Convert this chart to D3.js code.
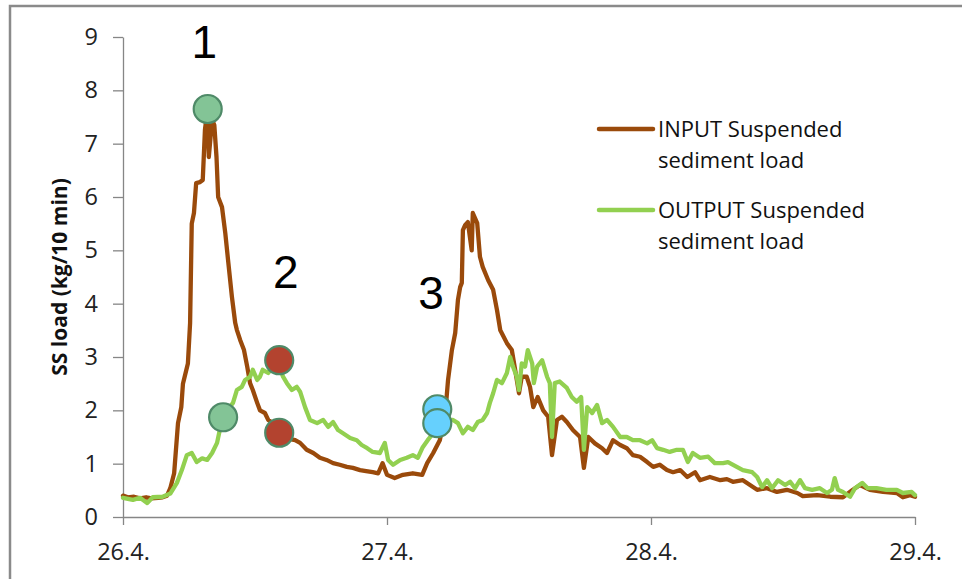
<!DOCTYPE html>
<html lang="en">
<head>
    <meta charset="utf-8">
    <title>SS load</title>
    <style type="text/css">
    body {
        margin: 0;
        background-color: #fff;
    }
    svg {
        display: block;
    }
    .axis path, .axis line {
        stroke: #868686;
        stroke-width: 1.3px;
    }
    .axis text {
        fill: #222;
        font-family: "Open Sans", sans-serif;
        font-size: 23.5px;
    }
    .axisTitle {
        fill: #111;
        font-family: "Open Sans", sans-serif;
        font-weight: bold;
        font-size: 21px;
    }
    .legendText {
        fill: #111;
        font-family: "Open Sans", sans-serif;
        font-size: 22px;
    }
    .bigNum {
        fill: #000;
        font-family: "Liberation Sans", Arial, sans-serif;
        font-size: 46px;
    }
    </style>
    <script src="https://d3js.org/d3.v7.min.js"></script>
</head>
<body>
<div id="chart"></div>
<script>

// hours since 26.4. 00:00, 10-min logger series
var inputHours = [0, 0.45, 1, 1.55, 2.1, 2.6, 3.2, 3.6, 4, 4.3, 4.65, 5, 5.3, 5.45, 5.9, 6.1, 6.25, 6.45, 6.65, 7, 7.25, 7.45, 7.65, 7.8, 8.1, 8.3, 8.5, 8.65, 9, 9.3, 9.55, 9.9, 10.2, 10.35, 10.65, 11, 11.3, 11.55, 11.8, 12.2, 12.45, 12.9, 13.2, 13.65, 14.2, 14.7, 15.2, 15.65, 16.1, 16.7, 17.3, 17.9, 18.5, 19.1, 19.7, 20.35, 20.9, 21.55, 22.1, 22.7, 23.2, 23.6, 24, 24.7, 25.45, 26.35, 27.2, 27.65, 28.2, 28.8, 29.3, 29.55, 29.9, 30.2, 30.45, 30.65, 30.8, 30.9, 31.1, 31.35, 31.7, 31.8, 32.2, 32.45, 32.7, 33.2, 33.65, 34, 34.3, 34.9, 35.35, 35.65, 36, 36.25, 36.7, 37, 37.3, 37.7, 38.2, 38.65, 39, 39.45, 39.9, 40.35, 40.9, 41.55, 41.9, 42.3, 42.9, 43.55, 44, 44.55, 45.2, 45.8, 46.35, 47, 47.65, 48.2, 48.8, 49.45, 50, 50.65, 51.3, 52, 52.45, 53.35, 54.3, 54.9, 55.45, 56.35, 57, 57.65, 58.55, 59.45, 60.35, 61.3, 61.8, 63.1, 64.3, 65.45, 66.35, 67, 67.9, 69.1, 70.35, 70.9, 71.55, 72];
var inputLoad = [0.40, 0.37, 0.38, 0.35, 0.37, 0.35, 0.36, 0.37, 0.40, 0.54, 0.82, 1.76, 2.06, 2.5, 2.88, 3.64, 5.5, 5.7, 6.26, 6.28, 6.32, 7.26, 7.6, 6.75, 7.45, 7.35, 6.75, 6.0, 5.81, 5.32, 4.82, 4.13, 3.64, 3.51, 3.32, 3.13, 2.81, 2.51, 2.38, 2.14, 2.0, 1.95, 1.82, 1.76, 1.62, 1.52, 1.46, 1.44, 1.39, 1.26, 1.2, 1.11, 1.07, 1.01, 0.98, 0.94, 0.92, 0.88, 0.86, 0.84, 0.82, 1.01, 0.79, 0.73, 0.79, 0.82, 0.79, 1.01, 1.2, 1.44, 1.95, 2.57, 3.13, 3.45, 4.07, 4.31, 4.39, 5.38, 5.47, 5.53, 5.0, 5.7, 5.51, 4.88, 4.69, 4.44, 4.26, 3.88, 3.5, 3.26, 3.13, 2.76, 2.32, 2.63, 2.63, 2.44, 2.06, 2.25, 2.0, 1.88, 1.16, 1.82, 1.88, 1.78, 1.63, 1.5, 0.92, 1.5, 1.38, 1.29, 1.2, 1.44, 1.35, 1.29, 1.16, 1.13, 1.03, 0.94, 0.98, 0.88, 0.84, 0.88, 0.75, 0.84, 0.69, 0.75, 0.69, 0.71, 0.66, 0.69, 0.6, 0.51, 0.54, 0.47, 0.51, 0.45, 0.39, 0.41, 0.38, 0.37, 0.51, 0.6, 0.51, 0.47, 0.45, 0.37, 0.41, 0.38];

var outputHours = [0, 0.9, 1.55, 2.2, 2.7, 3.6, 4.3, 4.9, 5.35, 5.8, 6.25, 6.7, 7.2, 7.65, 8.1, 8.55, 8.8, 9.2, 9.45, 10, 10.35, 10.8, 11.1, 11.55, 11.8, 12.2, 12.45, 12.7, 13.2, 13.65, 14.1, 14.55, 14.9, 15.35, 15.8, 16.1, 16.55, 17, 17.65, 18.2, 18.65, 19.1, 19.55, 20, 20.65, 21.25, 21.7, 22.2, 22.7, 23.35, 23.8, 24.1, 24.55, 25.2, 25.8, 26.35, 26.8, 27.25, 27.7, 28.2, 28.8, 29.35, 30, 30.45, 30.9, 31.35, 31.8, 32.25, 32.7, 33.1, 33.35, 33.65, 34, 34.45, 34.9, 35.2, 35.45, 35.8, 36, 36.25, 36.55, 36.8, 37.2, 37.35, 37.65, 38.1, 38.55, 38.8, 39, 39.25, 39.7, 40.35, 40.8, 41.25, 41.65, 41.9, 42.2, 42.65, 43.1, 43.55, 44, 44.55, 45.2, 45.8, 46.35, 47, 47.65, 48.1, 48.55, 49.1, 49.7, 50.35, 50.9, 51.35, 51.8, 52.45, 53.2, 53.8, 54.55, 55, 55.8, 56.35, 57.2, 57.65, 58.1, 58.55, 59, 59.55, 60.2, 60.65, 61.1, 61.55, 62, 62.65, 63.35, 64, 64.45, 64.7, 65, 65.45, 66.1, 66.55, 67.2, 67.7, 68.5, 69.4, 70.35, 70.9, 71.7, 72];
var outputLoad = [0.36, 0.32, 0.36, 0.26, 0.37, 0.38, 0.44, 0.64, 0.88, 1.16, 1.2, 1.03, 1.1, 1.07, 1.2, 1.39, 1.63, 1.85, 2.0, 2.14, 2.38, 2.44, 2.57, 2.63, 2.76, 2.57, 2.63, 2.76, 2.7, 2.82, 2.9, 2.63, 2.51, 2.38, 2.44, 2.35, 2.06, 1.82, 1.76, 1.82, 1.69, 1.78, 1.63, 1.57, 1.48, 1.44, 1.35, 1.29, 1.22, 1.2, 1.39, 1.07, 0.98, 1.07, 1.11, 1.16, 1.11, 1.31, 1.44, 1.57, 1.69, 1.8, 1.82, 1.76, 1.57, 1.69, 1.63, 1.78, 1.82, 1.95, 2.14, 2.32, 2.57, 2.51, 2.7, 3.0, 2.82, 2.63, 2.38, 2.88, 2.82, 3.13, 2.88, 2.51, 2.82, 2.94, 2.63, 2.51, 1.5, 2.51, 2.54, 2.42, 2.25, 2.16, 2.25, 1.26, 2.06, 1.95, 2.1, 1.76, 1.82, 1.69, 1.5, 1.5, 1.44, 1.44, 1.38, 1.44, 1.29, 1.26, 1.22, 1.26, 1.26, 1.03, 1.2, 1.11, 1.13, 1.01, 1.01, 1.03, 0.94, 0.88, 0.84, 0.75, 0.56, 0.69, 0.54, 0.69, 0.6, 0.66, 0.54, 0.69, 0.54, 0.51, 0.54, 0.45, 0.51, 0.73, 0.51, 0.47, 0.38, 0.54, 0.64, 0.54, 0.54, 0.51, 0.51, 0.45, 0.47, 0.41];

// highlighted sampling points
var markerHours = [7.7, 9.1, 14.2, 14.2, 28.57, 28.57];
var markerLoad = [7.65, 1.87, 2.94, 1.58, 2.02, 1.76];
var markerColor = ['#83c496', '#83c496', '#b3432f', '#b3432f', '#66d0fd', '#66d0fd'];

var eventLabels = ['1', '2', '3'];
var eventHours = [7.4, 14.8, 28.0];
var eventLoad = [8.6, 4.3, 3.9];

var yTicks = [0, 1, 2, 3, 4, 5, 6, 7, 8, 9];
var xTicks = [0, 24, 48, 72];
var xTickLabels = ['26.4.', '27.4.', '28.4.', '29.4.'];
var seriesNames = ['INPUT Suspended sediment load', 'OUTPUT Suspended sediment load'];
var seriesColors = ['#9a4a0b', '#92d050'];

var width = 962, height = 579;

var svg = d3.select('#chart')
    .append('svg')
    .attr('width', width)
    .attr('height', height);

// frame of the original slide, cut at right and bottom
svg.append('rect')
    .attr('x', 10)
    .attr('y', 6)
    .attr('width', 1000)
    .attr('height', 1000)
    .attr('fill', 'none')
    .attr('stroke', '#8a8a8a')
    .attr('stroke-width', 2.5);

var xScale = d3.scaleLinear()
    .domain([0, 72])
    .range([123, 915]);

var yScale = d3.scaleLinear()
    .domain([0, 9])
    .range([517, 37]);

var yAxis = d3.axisLeft(yScale)
    .tickValues(yTicks)
    .tickSize(10)
    .tickSizeOuter(0)
    .tickPadding(15)
    .tickFormat(d3.format('d'));

svg.append('g')
    .attr('class', 'axis')
    .attr('transform', 'translate(' + xScale(0) + ',0)')
    .call(yAxis);

var xAxis = d3.axisBottom(xScale)
    .tickValues(xTicks)
    .tickSize(8)
    .tickSizeOuter(0)
    .tickPadding(18)
    .tickFormat(function(d, i) { return xTickLabels[i]; });

svg.append('g')
    .attr('class', 'axis')
    .attr('transform', 'translate(0,' + yScale(0) + ')')
    .call(xAxis);

svg.append('text')
    .attr('class', 'axisTitle')
    .attr('transform', 'translate(67,277) rotate(-90)')
    .attr('text-anchor', 'middle')
    .text('SS load (kg/10 min)');

var line = d3.line()
    .x(function(d) { return xScale(d[0]); })
    .y(function(d) { return yScale(d[1]); });

var inputData = d3.zip(inputHours, inputLoad);
var outputData = d3.zip(outputHours, outputLoad);

// input first so output sits on top like in excel
[inputData, outputData].forEach(function(data, i) {
    svg.append('path')
        .datum(data)
        .attr('fill', 'none')
        .attr('stroke', seriesColors[i])
        .attr('stroke-width', 4.3)
        .attr('stroke-linejoin', 'round')
        .attr('stroke-linecap', 'round')
        .attr('d', line);
});

svg.selectAll('.marker')
    .data(d3.range(markerHours.length))
    .enter()
    .append('circle')
    .attr('class', 'marker')
    .attr('cx', function(i) { return xScale(markerHours[i]); })
    .attr('cy', function(i) { return yScale(markerLoad[i]); })
    .attr('r', 14)
    .attr('fill', function(i) { return markerColor[i]; })
    .attr('stroke', '#4f8a68')
    .attr('stroke-width', 2.2);

svg.selectAll('.bigNum')
    .data(eventLabels)
    .enter()
    .append('text')
    .attr('class', 'bigNum')
    .attr('x', function(d, i) { return xScale(eventHours[i]); })
    .attr('y', function(d, i) { return yScale(eventLoad[i]); })
    .attr('text-anchor', 'middle')
    .text(function(d) { return d; });

// legend
var legend = svg.append('g')
    .attr('transform', 'translate(599,129)');

seriesNames.forEach(function(name, i) {
    var g = legend.append('g')
        .attr('transform', 'translate(0,' + (i * 81) + ')');
    g.append('line')
        .attr('x1', 0)
        .attr('x2', 54)
        .attr('stroke', seriesColors[i])
        .attr('stroke-width', 4.5)
        .attr('stroke-linecap', 'round');
    var words = name.split(' ');
    g.append('text')
        .attr('class', 'legendText')
        .attr('x', 59)
        .attr('y', 8)
        .text(words[0] + ' ' + words[1]);
    g.append('text')
        .attr('class', 'legendText')
        .attr('x', 59)
        .attr('y', 39)
        .text(words.slice(2).join(' '));
});

</script>
</body>
</html>
